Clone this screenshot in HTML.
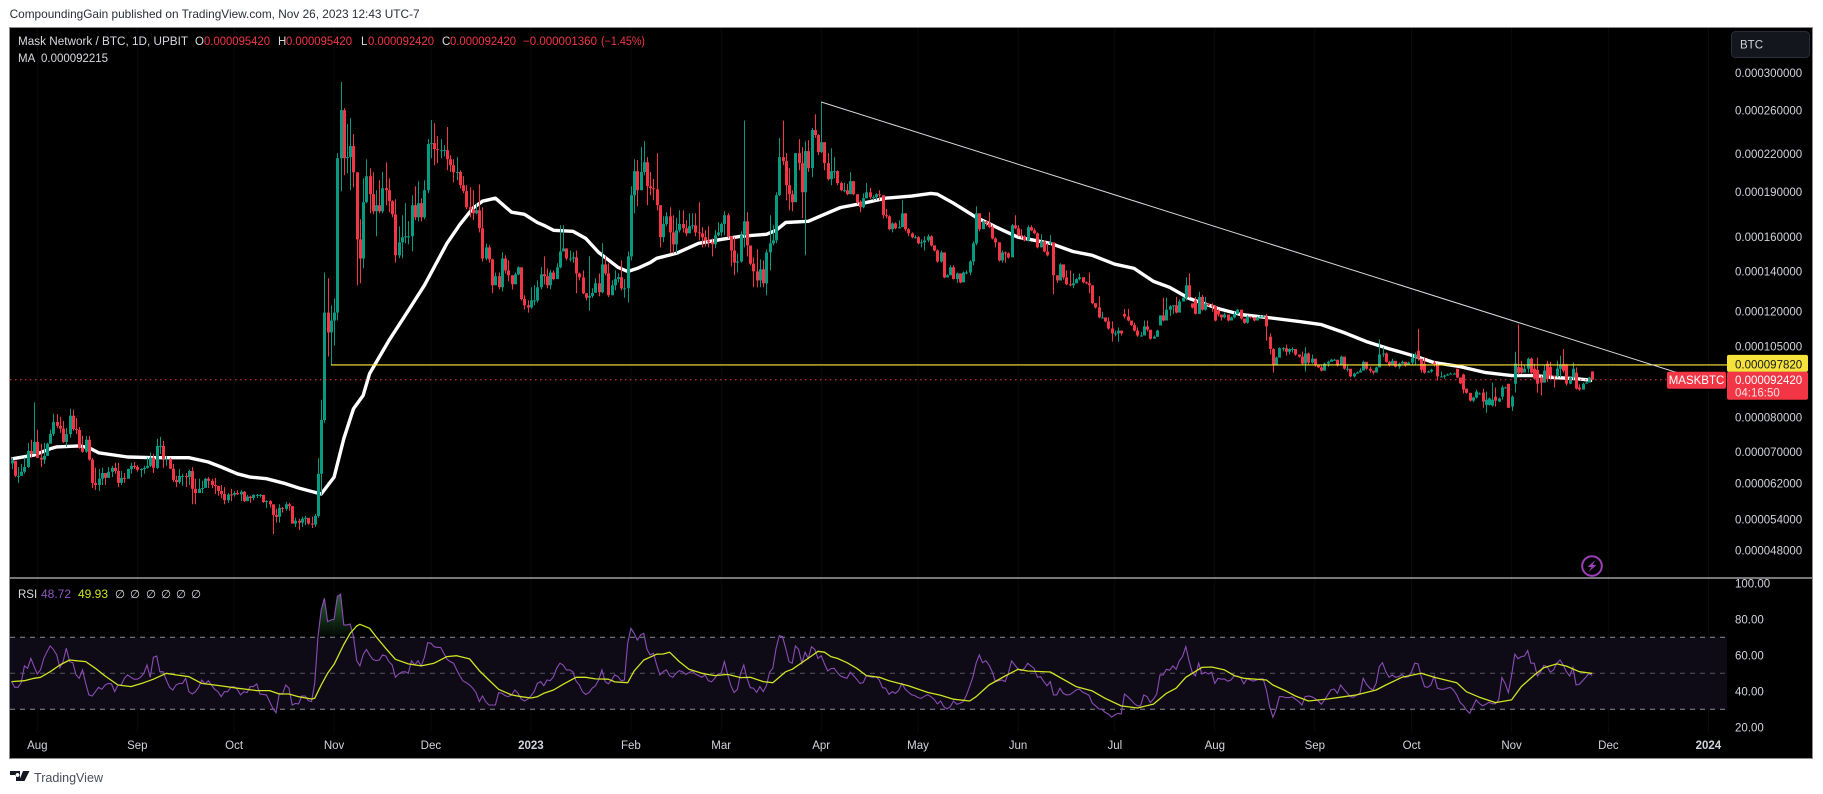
<!DOCTYPE html>
<html lang="en">
<head>
<meta charset="utf-8">
<title>MASKBTC chart</title>
<style>
html,body{margin:0;padding:0;background:#fff;width:1823px;height:794px;overflow:hidden}
svg{display:block;font-family:"Liberation Sans",sans-serif}
</style>
</head>
<body>
<svg id="chart" xmlns="http://www.w3.org/2000/svg" width="1823" height="794" viewBox="0 0 1823 794">
  <defs>
    <clipPath id="mainClip"><rect x="10" y="28" width="1717" height="549"/></clipPath>
    <clipPath id="rsiClip"><rect x="10" y="579" width="1717" height="178"/></clipPath>
    <clipPath id="obClip"><rect x="10" y="579" width="1717" height="58.3"/></clipPath>
    <linearGradient id="obGrad" gradientUnits="userSpaceOnUse" x1="0" y1="590" x2="0" y2="637">
      <stop offset="0" stop-color="#2b6b3a"/>
      <stop offset="1" stop-color="#2b6b3a" stop-opacity="0.05"/>
    </linearGradient>
  </defs>

  <text x="9.6" y="18" font-size="12" fill="#2a2e39" textLength="410" lengthAdjust="spacingAndGlyphs">CompoundingGain published on TradingView.com, Nov 26, 2023 12:43 UTC-7</text>

  <rect x="9.5" y="27.5" width="1803" height="731" fill="#000" stroke="#8b8b90" stroke-width="1"/>

  <g id="grid"></g>
  <g id="mainPane" clip-path="url(#mainClip)"></g>

  <line x1="10" y1="578" x2="1812" y2="578" stroke="#efefef" stroke-width="1"/>

  <g id="rsiPane"></g>

  <g id="priceAxis"></g>
  <g id="rsiAxis"></g>
  <g id="timeAxis"></g>

  <g font-size="11.5" fill="#d8dae0">
    <text x="18" y="45" textLength="170" lengthAdjust="spacingAndGlyphs">Mask Network / BTC, 1D, UPBIT</text>
    <text x="195" y="45">O</text>
    <text x="204" y="45" fill="#f23645" textLength="66" lengthAdjust="spacingAndGlyphs">0.000095420</text>
    <text x="278" y="45">H</text>
    <text x="286" y="45" fill="#f23645" textLength="66" lengthAdjust="spacingAndGlyphs">0.000095420</text>
    <text x="361" y="45">L</text>
    <text x="368" y="45" fill="#f23645" textLength="66" lengthAdjust="spacingAndGlyphs">0.000092420</text>
    <text x="442" y="45">C</text>
    <text x="450" y="45" fill="#f23645" textLength="66" lengthAdjust="spacingAndGlyphs">0.000092420</text>
    <text x="523" y="45" fill="#f23645" textLength="74" lengthAdjust="spacingAndGlyphs">−0.000001360</text>
    <text x="601" y="45" fill="#f23645" textLength="44" lengthAdjust="spacingAndGlyphs">(−1.45%)</text>
    <text x="18" y="62">MA</text>
    <text x="41" y="62" textLength="67" lengthAdjust="spacingAndGlyphs">0.000092215</text>
  </g>

  <g font-size="11.5" fill="#d8dae0">
    <text x="18" y="598">RSI</text>
    <text x="41" y="598" fill="#8e55c0" textLength="30" lengthAdjust="spacingAndGlyphs">48.72</text>
    <text x="78" y="598" fill="#cfe422" textLength="30" lengthAdjust="spacingAndGlyphs">49.93</text>
    <text x="115" y="598">∅</text>
    <text x="130" y="598">∅</text>
    <text x="146" y="598">∅</text>
    <text x="161" y="598">∅</text>
    <text x="176" y="598">∅</text>
    <text x="191" y="598">∅</text>
  </g>

  <g>
    <rect x="1731.5" y="31.5" width="78" height="26" rx="4" fill="#14161d" stroke="#2a2e39"/>
    <text x="1740" y="48.5" font-size="11.5" fill="#d1d4dc">BTC</text>
  </g>

  <g>
    <circle cx="1592" cy="566" r="9.8" fill="none" stroke="#9c3fb8" stroke-width="2"/>
    <polygon points="1595.5,560 1587.5,567 1591.5,567 1588.5,572 1596.5,565 1592.5,565" fill="#9c3fb8"/>
  </g>

  <g>
    <path d="M10 771h10v10h-4v-6h-6z M17.5 773a2 2 0 1 0 .01 0z M23 771h6.5l-5 10h-5.500z" fill="#131722"/>
    <text x="34" y="782" font-size="13" fill="#4a4e59" textLength="69" lengthAdjust="spacingAndGlyphs">TradingView</text>
  </g>
</svg>

<script>
// price values are in units of 0.000001 BTC
const closes = [
67.7,63.9,63.9,64.9,66.1,70.3,69.5,72.8,68.5,68,
69,72.3,75.1,78.6,77.4,76.6,72.8,75,80.5,76.5,
76.2,71.2,70.1,73.4,68,62.2,61.7,63.2,64.6,63.4,
64.9,65.9,65.1,62.2,63.4,63.2,65.6,66.4,66.1,65.4,
65.6,65.9,66.4,68.5,65.9,71.7,71.7,68.2,68.2,65.7,
62.9,62.4,63.9,63.9,63.6,65.1,60.8,59.8,60.8,61,
63.2,62.7,61.7,61.5,60.3,59.6,58.2,59.5,59.4,59.8,
59.5,60.1,58,59,58.7,59.4,59.4,59.4,57.8,58,
57.3,55,54.6,56.5,56.3,57.3,56.9,53.2,53.8,53.4,
54.2,54.4,53.2,53,54.8,64.4,79.2,119.6,110.8,116,
119.6,216.3,260.2,216.3,217.2,226.6,204.9,158.4,147.2,182.7,
201.9,188.4,176.4,180.6,176.4,192.8,191.3,183.4,174.4,149,
156.6,159.7,160.3,160.3,180.6,172.4,182,172.4,191.3,228.4,
229.2,224,223.1,223.1,223.1,215.5,210.6,204.9,205.2,195,
190.6,179.2,177.8,175.1,177.1,165.3,147.2,153.6,146.7,132.8,
137.5,131.8,147.2,140.6,138,133.3,138.5,142.3,126,123,
122,125.3,125.3,131.8,138.5,137.5,132.8,139.5,136,142.3,
151.2,153,147.2,147.2,147.8,139,136.9,128.8,126.6,127.5,
129,133.8,129.3,143.9,139,127.8,132.8,136,137,131.3,
131.3,148.4,187.7,205.8,191.3,205.2,213,194.2,192.8,192,
180.6,159.7,168,173.1,162.7,155.4,164,168,165.3,162.1,
166.6,167.2,162.7,162.1,159.7,157.8,156.6,155.4,160.9,162.7,
168,173.8,160.3,151.8,144.9,145.5,160.9,169.8,154.8,144.3,
140.1,135.3,141.2,133.8,150.7,156,157.8,187.7,217.2,213.9,
195,188.4,182.7,220.6,212.3,189.8,222.3,208.2,241,236.4,
221.4,230,212.3,199.6,205.8,205.8,196.6,191.3,191.3,188.4,
198.1,188.4,182.7,179.2,185.5,189.8,186.3,186.3,188.4,187.7,
173.8,173.1,164.7,168.4,165.3,166,175.1,164.7,162.1,159.7,
159.7,156,156.6,157.8,160.3,154.8,151.8,145.5,150.7,136.9,
138,142.3,136,139,134.3,139.5,139.5,145.5,156,175.1,
164.7,169.7,168.5,166,159,156.6,146.1,150.7,150.1,147.8,
167.2,165.3,160.9,160.3,157.8,166,164,162.1,153.6,157.2,
151.2,149,156.6,138,135.3,143.9,136.9,133.3,132.8,133.8,
136,137,134.3,133.8,132.8,124,122,117.4,117.4,115.6,
112.5,110.4,110.4,111.6,110.4,117.8,116,114,111.6,109.5,
109.5,113.4,112,108.2,109,111.6,118.3,116,120.9,122.5,
123,119.6,124.8,126.6,132.8,127,121.9,119,127,120.9,
123.9,123,122.5,116,118.7,117.4,118.7,116,117.4,119,
120.9,116.9,115,117.8,117.4,116,117.4,117.8,117.8,113.4,
104,97.6,100.6,104.3,104.3,102.9,104,104,101.8,101,
98.3,102.2,98.7,100.2,97.6,96.9,95.7,98.3,99,99.8,
99.8,97.6,101,96.4,96.4,93.6,94.6,95,95.7,99,
96.4,95.7,95,96.9,101.8,102.2,99,97.6,99.4,97.2,
98.3,99,97.6,98.7,100.6,101.8,100.2,96,95,95.4,
96,97.6,93.6,93.6,93.9,94.3,94.6,94.6,93.2,91.1,
89,87.9,85.3,86.3,88.3,87.7,85,85.6,86,85.6,
85.3,86,89.7,89.7,83,86.6,98.3,94.9,95,96.4,
100.2,95,92.8,91,91.4,95.7,92.8,93.9,93.6,96.4,
98,95.7,91,93.2,96.4,89.3,89,91,91.4,93.2,
92.42];
const highs = [
68.5,66.6,66.1,66.9,68.5,72.5,73.4,84.7,76.3,72.3,
72.5,72.6,76.3,81.1,81,80.2,78.9,76.8,82.7,82.4,
79.8,77.1,74.5,74.5,74.5,68.4,65.9,65.6,65.9,64.6,
66.1,66.4,67.2,67.2,65.1,64.6,65.7,67.2,67.4,66.6,
65.8,66.4,68.5,69.8,69.5,73.7,74.2,73.1,69,68.5,
66.9,63.9,65.6,64.4,64.6,65.4,66.1,63.2,63.2,62.7,
63.4,63.6,63.2,63.4,60.8,61.7,61.2,59.8,60.8,60.3,
60.5,60.5,60.3,59.4,59.2,59.5,59.6,59.6,59.4,58.2,
58.2,57.1,56.3,57.3,56.7,57.8,57.6,55.9,54.4,54.2,
54.6,54.8,54.2,54.6,55.2,68.4,85.6,139.5,136.4,123,
126.3,220.6,289.8,262.2,246.6,252.3,237.3,204.9,171.1,200.3,
215.5,208.2,204.9,191.3,198.8,205.2,213,200.3,184.1,184.8,
166.5,173.8,182,169.8,187.7,194.2,198,185.5,198.8,232.8,
250.4,247.5,235.5,232.8,227.5,243.8,218.9,215.5,217.2,206.6,
201.9,195,193.5,191.3,182,195.8,179.2,155.9,154.8,147.2,
139.5,139.5,150.7,149,146.1,138,139.5,142.8,138.5,127.8,
125.3,131.8,132.8,135.3,142.3,148.4,141.7,141,140.6,144.5,
167.2,167.2,153,151.8,150.7,151.8,139.5,140.6,128.8,148.4,
131.3,136.4,139,156,148.4,144.5,135.3,140.6,139,146.1,
136,151.2,194.2,215.5,214.7,225.7,231,217.2,205.2,199.7,
220.6,180.6,173.1,175.8,179.2,173.8,172.1,177.1,177.1,170.4,
175.1,175.1,175.1,182.7,166,164,166.6,159,164,169.1,
169,176.4,175.1,160.3,159.7,150.1,163.4,249.9,175.8,154.2,
147.8,152.4,146.7,146.1,152.4,173.8,167.2,189.8,233.8,249.9,
220.6,208.2,191.3,220.6,232.8,225.7,230.9,231.9,242.9,256.1,
237.3,268.4,230,220.6,224.8,217.2,206.6,197.7,197,196,
204.9,197.7,188.4,184,189,196.6,193,187.7,189,191.3,
187.7,178,173.8,169.1,169.1,170.4,184.1,175.1,165.3,162.7,
160.9,160.3,158.4,160.3,161.5,160.9,154.8,152.4,151.8,148.4,
138.5,143.4,143.4,139.5,139,140,140.6,146.1,157.2,179.9,
175.1,170.4,170,175.8,167.2,159.7,151.2,151.8,151.2,150.7,
168,173.8,167.2,164.7,160.9,167.2,167.2,165.3,162.7,161.5,
157.8,156,161,155.4,138,144.5,142.3,140.6,140.6,139,
136.4,139,135.3,134.8,139.5,132.8,124,127.3,120,116.9,
117.4,115.6,111.6,112.9,111.6,121.3,121.3,116,115,113,
111,116,116,111.6,109.5,112,118.3,126.6,126.6,123,
123,127,125.8,127,137,139,124,127,129.6,128,
127,124,123.9,123,121,117.8,119.6,118.3,117.8,120,
121.3,118.7,115.5,118.3,117.8,117.4,117.8,118.3,118.3,119,
110.4,104.3,101,104.7,104.7,105.7,104.3,104.7,104,101.4,
103,104.7,102.6,101.8,99.4,97.6,97.6,98.7,99.4,100.2,
100.2,99.4,101.4,99.4,97.6,95.7,95,95.4,96.6,99.4,
98.3,97.2,95.4,97.2,107.9,104.7,102.6,99.4,100.2,99,
98.7,99.4,97.9,99,102.2,102.6,112.4,96.4,100.8,95.7,
96.4,99.4,98.3,95.4,94.3,94.6,95,94.9,96.4,93.2,
94.6,89.3,87.7,86.6,89,88,89.3,88.3,86.3,91.4,
89.7,86.3,90.4,90,91,87,102.9,114.3,99.4,97.6,
100.6,100.6,98.3,100.6,93.9,97.6,99.4,99,93.9,99.4,
101.4,104,98.3,93.4,98.7,96.9,90.8,91.4,91.7,93.4,
95.42];
const lows = [
65.6,63.6,62.2,64.4,64.4,65.9,68.5,69.5,68.4,66.1,
66.9,69,72.5,74.5,76.8,75.4,72.5,71.4,74,76,
75,70.9,69.8,69.8,67.7,61,60.5,60.3,61.7,61.7,
63.4,63.6,64.4,61.2,61.7,62.2,64.4,64.4,65.6,64.9,
63.6,64.4,65.7,66.1,64.6,65.6,69.5,65.9,66.4,65.6,
62.4,61.2,62,61.5,61.2,61.7,57.3,57.3,60.1,59.8,
61.2,61,61,59.6,59.2,58.7,57.3,57.6,58,59,
59.4,58,57.8,58,57.6,58.2,58.7,58.8,57.6,56.5,
56.6,51.1,53.4,53.4,55.5,55.9,55.9,53.2,52.5,51.9,
52.5,52.9,53,52.3,52.5,54.4,59.4,78.3,101,97.6,
105.4,116,190.6,202.7,204.2,191.3,193.4,132.8,133.8,141.7,
182,175.1,174.4,160.3,175.1,175.1,180.6,175.8,172.4,144.9,
147.3,147.3,156,155.4,151.2,170.4,169.8,169.8,171.1,189.1,
216.3,210.6,212.3,216.3,218,206.6,205.2,197.2,198.8,192.8,
189.1,177.8,172.4,170.4,174.4,162.7,145.5,146.1,144.9,128.8,
132.8,130.7,129.7,139,134.8,130.7,133.3,138,125.3,121,
119.6,121.3,123,124.3,130.7,133.3,131.3,130.7,135.3,136,
141.7,151.2,146.1,145.5,144.9,128.8,135.3,128.4,125.3,120.5,
126.6,129.3,127.3,128.8,138,126.9,128.8,130.2,134.3,130.2,
126.6,124.3,146.1,175.1,179.9,191.3,202.7,180.6,187.7,184.1,
177,153.6,156.6,166.6,150.1,150.1,150.1,162.7,162.7,160.3,
164.7,164.7,160.3,157.8,153.6,154.2,153.6,148.4,153,160.3,
160.3,160.9,159,142.8,138,139.5,144.9,153.6,148.4,143.4,
131.8,131.8,131.8,131.8,127.8,140.6,154.8,156,187,210.6,
184.1,177.1,176.4,185.5,206.6,171.8,149,205.2,201.1,233.8,
218.9,220.6,206.6,198.8,195,200.3,195,190.6,189.8,187.7,
190,187.7,181.3,175.8,178.5,185.5,185,184.1,184.1,184.1,
171.8,171.8,164,162.7,164.7,165.3,169.7,163.4,160.3,159,
159,155.4,153.6,151.8,156.6,154.2,151.2,144.9,144.9,136.4,
136.9,138,135.8,134,133.8,134.8,138.5,138,143.4,154.8,
163.4,167.2,166.6,165.3,158.4,153.6,145.5,144.9,144.9,147.2,
151.8,164.7,160.3,159,157.2,157.2,163.4,161.5,153,153.6,
150.7,148.4,155,128.4,134,138,135.8,132.8,132.3,131.3,
133.8,135.3,133.8,133.3,128.8,123.5,121.5,117,116.9,115.2,
112,107,109.2,106.9,109.5,116.9,115.6,113.6,111.2,109,
109,110.8,111.2,107.8,108.2,109,113.8,115.6,117,118,
119,119.2,122,126,125.3,126.6,121.5,118.7,119,120.5,
120.5,122.5,120,115.6,117.8,116,117,115.6,116,116.9,
118.7,116.4,114.6,114.6,116.9,115.6,116.9,117.4,117.4,107.4,
101.8,95,97.6,101.4,103.1,101.4,101.8,102.6,101.4,100.6,
97.9,95.4,97.6,98.3,97.2,96.6,95.4,97.2,97.2,99.4,
99.4,97.2,99.4,96,95.4,93.2,93.2,94.6,95,97.2,
96,95,94.3,95.7,99,100.8,98.7,97.2,98.7,96.9,
96.4,98.3,97.2,98.3,98,98,99.4,95,94.6,95,
95,97.2,92.1,93.2,92.8,93.9,94.3,94.3,93,90.8,
87.7,87.6,85,84.8,86,87.3,83,81.4,83.7,83.4,
83.4,84.8,85.6,89.4,83,82,88,94.3,94.6,95,
95,94.6,92.5,87.9,87,91.4,91.7,92.8,89.7,93.2,
93.2,95,90.4,90.8,92.1,89,88.6,90,91.4,91.4,
92.42];
// days whose open differs from the previous close
const gapDays = [322,345,356,357,366,367,374,390,436,438,441,448,450,451,455,456,457,458,459,460,461,462,464,465,466,467,468,472,473,474,476,477,481,482,485,486,490];
const gapOpens = [155.9,119,113.8,118.3,123.9,125.3,120.5,109,103.3,98.3,98.7,96.4,94.3,89.3,87.6,88,83.9,83.9,83.7,86.6,85,86.6,91,83.4,91,97,96.9,96.4,96,93.2,98.3,97,98.3,97.6,95,89.7,95.42];

const maDays = [0,7,12,14,21,24,27,36,44,55,61,65,70,74,79,85,89,96,100,103,106,109,111,117,123,128,131,135,139,143,146,150,155,159,163,165,168,174,178,182,188,191,194,198,200,206,213,220,226,234,237,240,247,252,257,264,271,279,285,287,292,299,306,312,322,329,335,342,348,354,359,365,374,381,389,399,406,413,420,427,436,441,449,457,465,472,478,485,490];
const maValues = [68.2,69.2,70.9,71.4,71.7,71.2,69.8,68.7,68.5,68.5,67.4,66.1,64.4,63.6,63.2,62,61,59.6,63.6,73.7,82.7,87,94.6,107.4,120.5,132.8,142.3,156,167.8,178.5,183.4,185.5,175.8,174.4,169,167.2,164,163.4,159,150.7,142.3,140,141.7,144.9,147.3,150.1,156,158.4,160.3,161.5,164,169,169.8,174.4,179,182,185.5,187,189,188.4,182,172.4,165.3,159.7,156,151.2,149,144,141.7,134.8,131.8,126.3,121.5,118.7,117.4,115.6,114.2,110.8,107,104.1,100.8,98.7,97.2,95,93.9,93.9,93.2,92.8,92.2];

const rsiValues = [
45.4,42.2,42.2,44.8,54.1,52.8,58.3,53.7,49.6,51.9,
58.3,62,65.2,63.3,60.2,53.1,56.5,63.9,56.5,55.9,
49.1,47.2,51.9,44.4,38,37.4,39.8,42.2,41.1,43.5,
44.4,44.1,39.8,43.5,43.5,47.2,49.1,47.8,46.7,46.7,
47.8,50,54.6,47.8,58.9,59.6,50.9,50.9,46.3,42.2,
40.7,43.5,44.4,44.4,47.2,39.8,38.5,39.8,42.2,46.3,
44.1,45.9,43.5,41.1,39.8,37,39.8,39.8,42.2,42.6,
41.1,38,39.8,39.3,42.6,42.6,44.1,38.5,38.3,38,
34.3,30.6,28.1,38.9,38.5,43.5,41.7,32.4,33.3,33,
37.4,37.4,34.8,34.3,44.4,70.4,85.2,91.7,78.7,79.6,
80,92.6,94,76.9,76.9,77.4,70.4,57,54.1,60.2,
63.3,60.2,57.8,57,57.4,60.2,59.6,56.5,54.6,47.8,
49.6,50.7,50.9,50,57,54.6,57,54.1,58.9,67,
66.7,64.8,64.4,64.4,61.1,57.8,56.5,55.6,51.9,48.5,
45.7,44.8,43.5,41.7,39.3,34.3,37.4,34.3,32.4,32.4,
32.4,39.3,38.9,37.6,37,38,40.7,38.9,35.7,34.6,
35.6,37.4,39.8,44.4,45.4,43.1,46.3,45.9,48.1,52.8,
55.6,54.6,51.9,51.9,50.9,45.7,43.5,39.8,38.3,39.3,
41.7,43,46.3,51.9,45.4,44.1,46.3,49.1,48.1,45.9,
46.3,66.7,75,72.2,68.5,71.3,72.2,63.3,60.2,61.1,
54.6,49.1,50.9,51.9,48.7,47.8,50,51.5,50.9,49.4,
50.4,51.3,49.6,48.7,47.8,49.1,45.9,45.2,47.2,49.6,
50,56.5,49.1,43.1,39.3,41.1,50,54.6,47.2,42,
41.7,39.4,42.6,39.8,43.1,50.6,52.8,63.9,70.9,70.4,
63.9,56.5,55.6,65.2,63.3,55.6,61.7,58.3,64.8,63.3,
58.3,59.8,55.2,51.3,52.6,52.8,50.4,48.5,47.8,47.2,
50.6,48.7,46.7,44.4,44.8,48.7,48.1,47.8,48.1,46.3,
42,41.7,38.3,39.8,38.9,40.4,44.4,41.3,39.6,38.1,
37.6,36.5,36.1,37.2,38.1,37,35.6,33,34.6,31.5,
30.2,31.5,34.6,32.8,33.3,34.3,37.8,42.6,47.8,55.6,
60.2,55.9,57,54.6,50.9,45.4,45.9,46.3,45.4,50,
56.9,54.6,52.4,51.5,52.8,55.6,54.1,52.8,47.8,48.1,
45.4,43.1,45.4,38,38,41.7,38.9,38,38.1,39.3,
40.7,41.3,39.6,38.7,37.8,33.5,32,30.2,30,28.3,
27.4,25.6,26.9,27.8,27.4,38.5,37,35.2,33.3,31.9,
32,38,37,33.7,35.7,38.5,49.1,49.1,52.2,51.7,
54.1,52.2,56.9,59.3,64.8,57,50.6,48.5,55.6,49.6,
50.6,49.6,50.6,44.4,47.2,46.7,46.9,45.6,46.3,48.5,
48.5,47.6,44.1,47,46.3,45.6,46.3,46.9,46.9,40.7,
31.5,25.6,30,37,37,36.5,36.5,36.9,35.6,34.3,
32.4,37,37.4,37,36.1,34.8,32.8,35.2,38,40.7,
41.3,38.9,43.5,41.1,39.1,37,36.7,38,38.9,47.2,
43.9,41.9,40.7,44.4,53.7,55.9,50.9,47.8,49.1,47.8,
48.1,49.4,47.8,48.1,50.9,55.6,55.2,48.1,42.6,42.2,
43.5,48.5,41.7,41.1,41.1,41.7,42.2,40.7,38,33.9,
32.2,29.6,27.8,31.5,35.2,33.3,31.9,32.8,33.9,33.1,
33.1,35.2,47.6,44.4,39.3,49,60.6,58.1,59.3,59.6,
62.6,55.6,55.6,48.5,50.9,54.4,53.7,50.6,51.9,55.6,
57.4,54.6,50.9,48.5,53.3,43.5,43.9,45.9,47.8,50,
48.72];
const rsiMaDays = [0,4,7,9,12,15,18,20,23,26,29,33,37,41,44,48,51,55,59,65,70,76,80,83,86,89,93,94,96,98,100,103,105,107,108,111,113,116,119,123,127,131,135,138,142,145,148,151,155,158,161,163,165,168,171,175,178,181,185,187,191,193,196,200,202,204,207,210,214,218,222,226,229,233,236,240,242,248,250,252,254,256,259,262,265,269,272,278,284,288,292,297,299,303,308,312,315,322,330,335,339,344,349,354,358,361,364,369,372,376,379,382,389,391,395,398,402,408,412,417,423,426,431,437,441,448,451,455,460,465,468,472,475,479,482,486,490];
const rsiMaValues = [45.4,45.9,47.2,47.8,50.9,54.6,57.4,57,56.5,52.8,48.5,43.5,42.6,44.8,46.7,50,49.1,48.1,44.4,43,41.7,40.4,40.4,38.5,38.5,37,35.7,36.1,43.5,50,55,66,72.2,76.3,77.2,75,70.4,63.9,57.8,55.2,54.1,55.6,59.3,59.8,58,51.5,46.3,41.1,38,37,36.3,37,38.9,40.7,43.9,47.8,47.8,46.9,46.7,45.2,44.8,51.3,57.4,60.6,60.7,61.7,56.5,52.2,50,48.7,49.4,47.6,47.8,45.4,44.8,50.9,52.2,59.6,62.2,61.7,59.3,58.3,55.9,52.8,48.7,47.8,45.9,43.1,39.4,37.8,35.6,34.6,37,43.5,48.5,52.2,51.3,50.7,42.6,40.2,36.1,31.9,30.7,32.9,38.9,41.7,47.8,53.3,53.5,51.9,48.7,47.2,46.3,43.5,40.2,37.4,34.6,35.7,36.7,38,40.7,43.5,47.8,50,47.8,44.8,39.8,36.7,33.7,35.2,42.6,49,53.1,55.2,54,50.9,49.93];

const priceTicks = [300,260,220,190,160,140,120,105,80,70,62,54,48];
const rsiTicks = [100,80,60,40,20];
const rsiBands = [70,50,30];
const monthLabels = ['Aug','Sep','Oct','Nov','Dec','2023','Feb','Mar','Apr','May','Jun','Jul','Aug','Sep','Oct','Nov','Dec','2024'];
const monthDays = [8,39,69,100,130,161,192,220,251,281,312,342,373,404,434,465,495,526];
const yearLabels = ['2023','2024'];

const supportLevel = [97.82];
const supportStartDay = [99];
const lastPrice = [92.42];
const trendDays = [251,517];
const trendPrices = [268.4,94.7];

function priceToY(p){return 73 + 260.5*Math.log(300/p);}
function dayToX(i){return 11.5 + 3.226*i;}
function rsiToY(v){return 673.3 - (v-50)*1.8;}

const NS = 'http://www.w3.org/2000/svg';
function svgEl(tag, parent){
  const el = document.createElementNS(NS, tag);
  parent.appendChild(el);
  return el;
}
function setAll(el, props){
  for (const k in props) el.setAttribute(k, props[k]);
}

const grid = document.getElementById('grid');
const mainPane = document.getElementById('mainPane');
const rsiPane = document.getElementById('rsiPane');
const priceAxis = document.getElementById('priceAxis');
const rsiAxis = document.getElementById('rsiAxis');
const timeAxis = document.getElementById('timeAxis');

// faint grid
monthDays.forEach(function(d){
  const el = svgEl('line', grid);
  
  
  setAll(el, {x1: dayToX(d), x2: dayToX(d), y1: 28, y2: 732, stroke: '#0b0b0d', 'stroke-width': 1});
});

// moving average line
const maLine = svgEl('polyline', mainPane);


setAll(maLine, {
  points: maDays.map(function(d, k){return dayToX(d).toFixed(1) + ',' + priceToY(maValues[k]).toFixed(1);}).join(' '),
  fill: 'none', stroke: '#ffffff', 'stroke-width': 3.4, 'stroke-linejoin': 'round'
});

// candles
closes.forEach(function(c, i){
  const gapIdx = gapDays.indexOf(i);
  const o = gapIdx >= 0 ? gapOpens[gapIdx] : (i > 0 ? closes[i-1] : c * 0.99);
  const up = c >= o;
  const color = up ? '#089981' : '#f23645';
  const cx = Math.round(dayToX(i));
  const wick = svgEl('line', mainPane);
  
  
  setAll(wick, {x1: cx + 0.5, x2: cx + 0.5, y1: priceToY(highs[i]).toFixed(1), y2: priceToY(lows[i]).toFixed(1), stroke: color, 'stroke-width': 1});
  const top = priceToY(Math.max(o, c));
  const bot = priceToY(Math.min(o, c));
  const body = svgEl('rect', mainPane);
  
  
  setAll(body, {x: cx - 1, y: top.toFixed(1), width: 3, height: Math.max(1, bot - top).toFixed(1), fill: color});
});

// last-price dotted line
const lastLine = svgEl('line', mainPane);


setAll(lastLine, {x1: 10, x2: 1727, y1: priceToY(lastPrice[0]), y2: priceToY(lastPrice[0]), stroke: '#f23645', 'stroke-width': 1, 'stroke-dasharray': '1.5 3.5'});

// horizontal support drawing
const support = svgEl('line', mainPane);


setAll(support, {x1: dayToX(supportStartDay[0]), x2: 1727, y1: priceToY(supportLevel[0]), y2: priceToY(supportLevel[0]), stroke: '#ffeb3b', 'stroke-width': 1.2});

// descending trend line drawing
const trend = svgEl('line', mainPane);


setAll(trend, {x1: dayToX(trendDays[0]), y1: priceToY(trendPrices[0]), x2: dayToX(trendDays[1]), y2: priceToY(trendPrices[1]), stroke: '#d8dae0', 'stroke-width': 1});

// RSI pane
const band = svgEl('rect', rsiPane);


setAll(band, {x: 10, y: rsiToY(rsiBands[0]), width: 1717, height: rsiToY(rsiBands[2]) - rsiToY(rsiBands[0]), fill: '#0e0a16'});

rsiBands.forEach(function(v, k){
  const el = svgEl('line', rsiPane);
  
  
  setAll(el, {x1: 10, x2: 1727, y1: rsiToY(v), y2: rsiToY(v), stroke: k === 1 ? '#55565e' : '#8a8c96', 'stroke-width': 1, 'stroke-dasharray': '5 5'});
});

const rsiPoints = rsiValues.map(function(v, i){return dayToX(i).toFixed(1) + ',' + rsiToY(v).toFixed(1);});
const obFill = svgEl('polygon', rsiPane);


setAll(obFill, {
  points: dayToX(0) + ',' + rsiToY(rsiBands[0]) + ' ' + rsiPoints.join(' ') + ' ' + dayToX(rsiValues.length - 1) + ',' + rsiToY(rsiBands[0]),
  fill: 'url(#obGrad)', 'clip-path': 'url(#obClip)'
});

const rsiLine = svgEl('polyline', rsiPane);


setAll(rsiLine, {points: rsiPoints.join(' '), fill: 'none', stroke: '#8a4cb4', 'stroke-width': 1.1, 'clip-path': 'url(#rsiClip)'});

const rsiMaLine = svgEl('polyline', rsiPane);


setAll(rsiMaLine, {
  points: rsiMaDays.map(function(d, k){return dayToX(d).toFixed(1) + ',' + rsiToY(rsiMaValues[k]).toFixed(1);}).join(' '),
  fill: 'none', stroke: '#cfe422', 'stroke-width': 1.3, 'stroke-linejoin': 'round'
});

// price axis labels
priceTicks.forEach(function(p){
  const t = svgEl('text', priceAxis);
  
  
  setAll(t, {x: 1735, y: (priceToY(p) + 4).toFixed(1), 'font-size': 11.5, fill: '#d1d4dc'});
  t.textContent = (p / 1e6).toFixed(9);
});

// support tag
const supportTag = svgEl('rect', priceAxis);


setAll(supportTag, {x: 1727, y: priceToY(supportLevel[0]) - 10, width: 81, height: 17, rx: 2, fill: '#f5e33c'});
const supportText = svgEl('text', priceAxis);


setAll(supportText, {x: 1735, y: priceToY(supportLevel[0]) + 3.5, 'font-size': 11.5, fill: '#131722'});
supportText.textContent = (supportLevel[0] / 1e6).toFixed(9);

// last price tag
const lastTag = svgEl('rect', priceAxis);


setAll(lastTag, {x: 1727, y: priceToY(lastPrice[0]) - 8, width: 81, height: 28, rx: 2, fill: '#f23645'});
const lastText = svgEl('text', priceAxis);


setAll(lastText, {x: 1735, y: priceToY(lastPrice[0]) + 4.5, 'font-size': 11.5, fill: '#ffffff'});
lastText.textContent = (lastPrice[0] / 1e6).toFixed(9);
const countdown = svgEl('text', priceAxis);


setAll(countdown, {x: 1735, y: priceToY(lastPrice[0]) + 17, 'font-size': 11.5, fill: '#fbdfe2'});
countdown.textContent = '04:16:50';

const symTag = svgEl('rect', priceAxis);


setAll(symTag, {x: 1667, y: priceToY(lastPrice[0]) - 8, width: 59, height: 17, rx: 2, fill: '#f23645'});
const symText = svgEl('text', priceAxis);


setAll(symText, {x: 1696.5, y: priceToY(lastPrice[0]) + 4.5, 'font-size': 11.5, fill: '#ffffff', 'text-anchor': 'middle'});
symText.textContent = 'MASKBTC';

// RSI axis labels
rsiTicks.forEach(function(v){
  const t = svgEl('text', rsiAxis);
  
  
  setAll(t, {x: 1735, y: (rsiToY(v) + 4).toFixed(1), 'font-size': 11.5, fill: '#d1d4dc'});
  t.textContent = v.toFixed(2);
});

// time axis labels
monthLabels.forEach(function(lbl, k){
  const t = svgEl('text', timeAxis);
  
  
  setAll(t, {x: dayToX(monthDays[k]).toFixed(1), y: 749, 'font-size': 11.5, fill: '#d1d4dc', 'text-anchor': 'middle', 'font-weight': yearLabels.indexOf(lbl) >= 0 ? 'bold' : 'normal'});
  t.textContent = lbl;
});
</script>
</body>
</html>
